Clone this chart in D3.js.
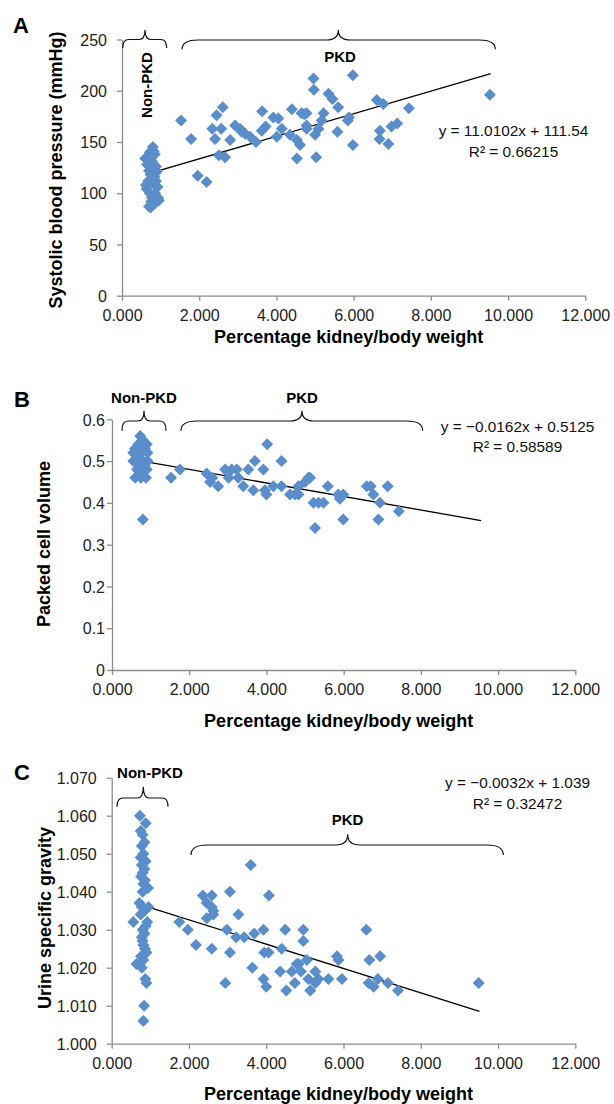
<!DOCTYPE html>
<html><head><meta charset="utf-8">
<script src="https://cdn.jsdelivr.net/npm/d3@7"></script>
<style>
body{margin:0;background:#fff}
svg{display:block}
text{font-family:"Liberation Sans",Arial,Helvetica,sans-serif}
</style>
</head><body>
<svg id="chart" width="614" height="1104"></svg>
<script>
// ---------------- DATA ----------------
const xTickValues = [0, 2, 4, 6, 8, 10, 12];
const xAxisTitle = "Percentage kidney/body weight";

// Panel A – systolic blood pressure
const aTickValues = [0, 50, 100, 150, 200, 250];
const aX = [0.60,0.65,0.70,0.75,0.62,0.68,0.72,0.64,0.70,0.76,0.80,0.82,0.85,0.78,0.88,0.90,0.84,0.80,0.92,0.86,0.94,0.85,0.78,0.74,0.95,0.82,0.72,0.88,
  1.53,1.79,1.96,2.19,2.34,2.41,2.45,2.51,2.57,2.61,2.67,2.80,2.93,3.06,3.10,3.19,3.32,3.47,3.62,3.63,3.72,3.92,4.05,4.01,4.14,4.35,4.40,4.53,4.61,4.53,4.65,4.72,4.78,4.78,4.78,4.96,4.97,5.00,5.03,5.09,5.17,5.22,5.35,5.45,5.58,5.60,5.85,5.88,5.98,5.98,6.60,6.67,6.68,6.77,6.90,6.98,7.13,7.43,9.53];
const aY = [134,128,122,118,108,112,100,104,87,92,145,141,138,131,126,121,116,110,106,100,95,90,96,86,93,124,140,112,
  171,153,117,111,163,153,176,137,163,184,135,152,166,163,160,158,155,150,161,180,165,174,173,155,163,157,182,152,147,134,178,177,166,178,163,212,201,157,135,163,171,178,197,192,160,184,171,174,215,147,191,153,161,187,148,165,168,183,196];
const aFitLineX = [0.6, 9.55];
const aSlope = 11.0102, aIntercept = 111.54;
const aEquation = "y = 11.0102x + 111.54";
const aR2 = "R\u00B2 = 0.66215";

// Panel B – packed cell volume
const bTickValues = [0, 0.1, 0.2, 0.3, 0.4, 0.5, 0.6];
const bX = [0.73,0.80,0.90,0.68,0.60,0.85,0.55,0.75,0.92,0.65,0.55,0.80,0.92,0.70,0.65,0.90,0.78,0.60,0.88,0.75,0.80,0.70,0.85,
  1.53,1.76,2.45,2.54,2.60,2.75,2.93,3.02,3.10,3.23,3.27,3.40,3.53,3.66,3.70,3.92,4.02,3.96,4.00,4.18,4.39,4.39,4.61,4.74,4.83,4.83,5.00,5.09,5.13,5.22,5.35,5.48,5.26,5.59,5.86,5.90,5.99,5.99,6.60,6.70,6.77,6.94,6.90,7.14,7.43];
const bY = [0.56,0.55,0.54,0.54,0.53,0.53,0.52,0.52,0.52,0.51,0.50,0.50,0.50,0.49,0.48,0.48,0.47,0.46,0.46,0.46,0.36,0.50,0.49,
  0.46,0.48,0.47,0.45,0.46,0.44,0.48,0.46,0.48,0.48,0.46,0.44,0.48,0.43,0.50,0.48,0.54,0.43,0.42,0.44,0.50,0.44,0.42,0.42,0.44,0.42,0.45,0.46,0.46,0.40,0.40,0.40,0.34,0.44,0.42,0.41,0.42,0.36,0.44,0.44,0.42,0.40,0.36,0.44,0.38];
const bFitLineX = [0.6, 9.56];
const bSlope = -0.0162, bIntercept = 0.5125;
const bEquation = "y = \u22120.0162x + 0.5125";
const bR2 = "R\u00B2 = 0.58589";

// Panel C – urine specific gravity
const cTickValues = [1.000, 1.010, 1.020, 1.030, 1.040, 1.050, 1.060, 1.070];
const cX = [0.73,0.88,0.75,0.80,0.85,0.78,0.82,0.75,0.88,0.78,0.85,0.80,0.76,0.86,0.82,0.94,0.80,0.78,0.95,0.85,0.75,0.56,0.92,0.80,0.85,0.78,0.82,0.86,0.90,0.76,0.82,0.64,0.78,0.87,0.90,0.84,0.82,0.72,0.88,0.80,
  1.75,1.97,2.18,2.36,2.59,2.46,2.59,2.63,2.46,2.63,2.59,2.94,3.06,2.98,3.06,3.28,3.22,3.43,3.60,3.64,3.69,3.93,4.07,3.95,4.06,3.93,4.00,4.40,4.49,4.36,4.52,4.66,4.74,4.79,4.96,4.96,5.05,4.84,4.90,5.09,5.14,5.27,5.35,5.27,5.61,5.83,5.87,5.96,6.59,6.67,6.95,6.65,6.78,6.89,7.15,7.41,9.50];
const cY = [1.060,1.058,1.056,1.055,1.053,1.052,1.050,1.049,1.048,1.047,1.046,1.045,1.044,1.043,1.042,1.041,1.040,1.036,1.036,1.035,1.034,1.032,1.032,1.030,1.029,1.028,1.026,1.025,1.024,1.023,1.022,1.021,1.020,1.017,1.016,1.010,1.006,1.037,1.031,1.027,
  1.032,1.030,1.026,1.039,1.039,1.037,1.036,1.035,1.033,1.034,1.025,1.016,1.040,1.030,1.024,1.034,1.028,1.028,1.047,1.020,1.029,1.030,1.039,1.024,1.024,1.017,1.015,1.025,1.030,1.019,1.014,1.019,1.016,1.021,1.030,1.027,1.022,1.021,1.019,1.017,1.014,1.019,1.017,1.016,1.017,1.023,1.022,1.017,1.030,1.022,1.023,1.016,1.015,1.017,1.016,1.014,1.016];
const cFitLineX = [0.6, 9.52];
const cSlope = -0.0032, cIntercept = 1.039;
const cEquation = "y = \u22120.0032x + 1.039";
const cR2 = "R\u00B2 = 0.32472";

const groupLabels = ["Non-PKD", "PKD"];

// ---------------- DRAWING ----------------
const svg = d3.select("#chart");
const FONT = '"Liberation Sans",Arial,Helvetica,sans-serif';
const AXIS_COLOR = "#8c8c8c";
const MARK_COLOR = "#5a8ecb";

function brace(g, b) {
  const {x1, x2, xm, yEnd, yH, yTip, r, t} = b;
  const p = `M${x1},${yEnd} Q${x1},${yH} ${x1 + r},${yH} L${xm - t},${yH} Q${xm},${yH} ${xm},${yTip} ` +
            `Q${xm},${yH} ${xm + t},${yH} L${x2 - r},${yH} Q${x2},${yH} ${x2},${yEnd}`;
  g.append("path").attr("d", p).attr("fill", "none").attr("stroke", "#111").attr("stroke-width", 1.2);
}

function panel(cfg) {
  const g = svg.append("g");
  const x = d3.scaleLinear().domain([0, 12]).range([cfg.x0, cfg.x1]);
  const y = d3.scaleLinear().domain(cfg.yDomain).range([cfg.yBot, cfg.yTop]);

  // axes
  const xa = g.append("g").attr("transform", `translate(0,${cfg.yBot})`)
    .call(d3.axisBottom(x).tickValues(xTickValues).tickSize(5).tickSizeOuter(0).tickPadding(5).tickFormat(d3.format(".3f")));
  const ya = g.append("g").attr("transform", `translate(${cfg.x0},0)`)
    .call(d3.axisLeft(y).tickValues(cfg.yTicks).tickSize(5).tickSizeOuter(0).tickPadding(cfg.yPad).tickFormat(cfg.yFmt));
  [xa, ya].forEach(a => {
    a.select(".domain").attr("stroke", AXIS_COLOR).attr("stroke-width", 1.3);
    a.selectAll(".tick line").attr("stroke", AXIS_COLOR).attr("stroke-width", 1.3);
    a.selectAll(".tick text").attr("fill", "#222").style("font-family", FONT).style("font-size", "16px");
  });
  xa.selectAll(".tick text").attr("dy", null).attr("y", 25.3);
  ya.selectAll(".tick text").attr("dy", "0.36em");

  // trend line
  const fx = cfg.fitX;
  g.append("line")
    .attr("x1", x(fx[0])).attr("y1", y(cfg.slope * fx[0] + cfg.intercept))
    .attr("x2", x(fx[1])).attr("y2", y(cfg.slope * fx[1] + cfg.intercept))
    .attr("stroke", "#000").attr("stroke-width", 1.3);

  // points
  const sym = d3.symbol().type(d3.symbolSquare).size(72);
  g.append("g").selectAll("path").data(cfg.xs.map((v, i) => [v, cfg.ys[i]])).join("path")
    .attr("d", sym)
    .attr("transform", d => `translate(${x(d[0])},${y(d[1])}) rotate(45)`)
    .attr("fill", MARK_COLOR);

  // equation
  g.append("text").attr("x", cfg.eq.x).attr("y", cfg.eq.y1 + 5.5).attr("text-anchor", "middle")
    .style("font-size", "15.4px").attr("fill", "#111").text(cfg.eqText);
  g.append("text").attr("x", cfg.eq.x).attr("y", cfg.eq.y2 + 5.5).attr("text-anchor", "middle")
    .style("font-size", "15.4px").attr("fill", "#111").text(cfg.r2Text);

  // titles
  g.append("text").attr("x", (cfg.x0 + cfg.x1) / 2 - 5).attr("y", cfg.xTitleY + 6.5)
    .attr("text-anchor", "middle").style("font-size", "18px").style("font-weight", "bold").text(xAxisTitle);
  g.append("text").attr("transform", `translate(${cfg.yTitle.x + 6.5},${cfg.yTitle.y}) rotate(-90)`)
    .attr("text-anchor", "middle").style("font-size", "18px").style("font-weight", "bold").text(cfg.yTitle.text);

  // panel letter
  g.append("text").attr("x", cfg.letter.x).attr("y", cfg.letter.y)
    .style("font-size", "22px").style("font-weight", "bold").text(cfg.letter.t);

  // braces and group labels
  cfg.braces.forEach(b => brace(g, b));
  cfg.labels.forEach(l => {
    const t = g.append("text").attr("text-anchor", "middle")
      .style("font-size", "15px").style("font-weight", "bold").text(l.t);
    if (l.rot) t.attr("transform", `translate(${l.x + 5.4},${l.y}) rotate(-90)`);
    else t.attr("x", l.x).attr("y", l.y + 5.4);
  });
}

panel({
  x0: 122, x1: 585.3, yTop: 39.5, yBot: 295.7, yDomain: [0, 250], yTicks: aTickValues,
  yFmt: d3.format("d"), yPad: 10, xs: aX, ys: aY, fitX: aFitLineX, slope: aSlope, intercept: aIntercept,
  eqText: aEquation, r2Text: aR2, eq: {x: 513.5, y1: 130, y2: 151},
  xTitleY: 336, yTitle: {x: 55, y: 170, text: "Systolic blood pressure (mmHg)"},
  letter: {x: 13, y: 33, t: "A"},
  braces: [
    {x1: 122.7, x2: 166.7, xm: 145, yEnd: 48, yH: 39.5, yTip: 30, r: 6, t: 6},
    {x1: 182, x2: 495.3, xm: 338.3, yEnd: 49.3, yH: 40, yTip: 30, r: 16, t: 12}
  ],
  labels: [{t: groupLabels[0], x: 146.7, y: 85, rot: true}, {t: groupLabels[1], x: 340, y: 57}]
});

panel({
  x0: 112, x1: 575.3, yTop: 419.3, yBot: 670, yDomain: [0, 0.6], yTicks: bTickValues,
  yFmt: d => d === 0 ? "0" : d3.format(".1f")(d), yPad: 2, xs: bX, ys: bY, fitX: bFitLineX, slope: bSlope, intercept: bIntercept,
  eqText: bEquation, r2Text: bR2, eq: {x: 517.5, y1: 426, y2: 446},
  xTitleY: 720, yTitle: {x: 43, y: 544, text: "Packed cell volume"},
  letter: {x: 14, y: 407, t: "B"},
  braces: [
    {x1: 122, x2: 166, xm: 144, yEnd: 430.7, yH: 421, yTip: 410.7, r: 6, t: 6},
    {x1: 181, x2: 422.7, xm: 302, yEnd: 430.7, yH: 421, yTip: 410.7, r: 16, t: 12}
  ],
  labels: [{t: groupLabels[0], x: 144, y: 398}, {t: groupLabels[1], x: 302, y: 398}]
});

panel({
  x0: 111.7, x1: 575.3, yTop: 777.7, yBot: 1043.7, yDomain: [1.0, 1.07], yTicks: cTickValues,
  yFmt: d3.format(".3f"), yPad: 10, xs: cX, ys: cY, fitX: cFitLineX, slope: cSlope, intercept: cIntercept,
  eqText: cEquation, r2Text: cR2, eq: {x: 517.5, y1: 782.7, y2: 803.3},
  xTitleY: 1093, yTitle: {x: 44, y: 918, text: "Urine specific gravity"},
  letter: {x: 14, y: 780, t: "C"},
  braces: [
    {x1: 117, x2: 168, xm: 143.3, yEnd: 806.7, yH: 798, yTip: 786.7, r: 6, t: 6},
    {x1: 191, x2: 503.3, xm: 347.7, yEnd: 855, yH: 845, yTip: 834.3, r: 16, t: 12}
  ],
  labels: [{t: groupLabels[0], x: 150, y: 772.5}, {t: groupLabels[1], x: 347.5, y: 819.2}]
});
</script>
</body></html>
